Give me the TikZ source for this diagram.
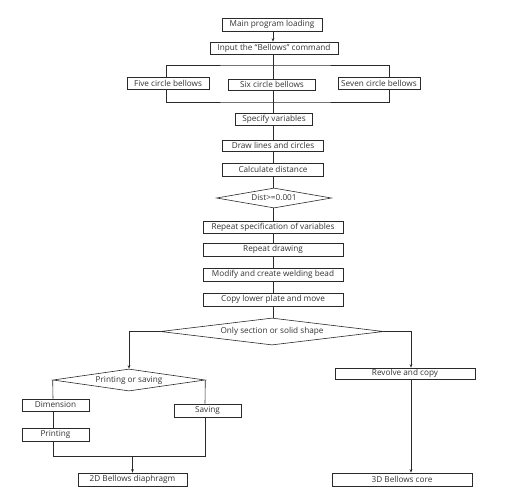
\documentclass[tikz,border=0pt]{standalone}
\usepackage{fontspec}
\setmainfont{Open Sans}
\usetikzlibrary{shapes.geometric,arrows.meta}
\definecolor{ln}{HTML}{2A2A2A}
\definecolor{tx}{HTML}{333333}
\begin{document}
\begin{tikzpicture}[x=1pt,y=-1pt,
  every node/.style={font=\fontsize{8.2}{9}\selectfont, text=tx},
  box/.style={draw=ln, line width=0.6pt, inner sep=0pt, minimum width=#1},
  box/.default=100pt,
  dia/.style={draw=ln, line width=0.6pt, diamond, inner sep=0pt},
  con/.style={draw=ln, line width=0.6pt},
  arr/.style={con, -{Stealth[length=3.5pt,width=2.6pt]}}
]
\useasboundingbox (0,0) rectangle (508,499);
% main column
\node[box=100pt, minimum height=13pt] (main) at (272,24.5) {Main program loading};
\node[box=128pt, minimum height=12pt] (input) at (274,48) {Input the ``Bellows'' command};
\node[box=82pt, minimum height=12pt] (five) at (168,83) {Five circle bellows};
\node[box=87pt, minimum height=11pt] (six) at (272,84.5) {Six circle bellows};
\node[box=82pt, minimum height=12pt] (seven) at (379,83) {Seven circle bellows};
\node[box=77pt, minimum height=12pt] (spec) at (274,119.5) {Specify variables};
\node[box=101pt, minimum height=11pt] (drw) at (273,145.5) {Draw lines and circles};
\node[box=101pt, minimum height=13pt] (calc) at (273,169.5) {Calculate distance};
\node[dia, aspect=5.75, minimum width=115pt, minimum height=20pt] (dist) at (274,198) {Dist>=0.001};
\node[box=140pt, minimum height=12pt] (rep) at (273,227) {Repeat specification of variables};
\node[box=140pt, minimum height=13pt] (repd) at (273,249.5) {Repeat drawing};
\node[box=140pt, minimum height=13pt] (mod) at (273,274.5) {Modify and create welding bead};
\node[box=140pt, minimum height=13pt] (copy) at (273,299.5) {Copy lower plate and move};
\node[dia, aspect=8.26, minimum width=223pt, minimum height=27pt] (only) at (272,331.5) {Only section or solid shape};
% left branch
\node[dia, aspect=6.9, minimum width=152pt, minimum height=22pt] (pos) at (129,380) {Printing or saving};
\node[box=67pt, minimum height=12pt] (dim) at (55.5,405) {Dimension};
\node[box=67pt, minimum height=13pt] (prn) at (55.5,434.5) {Printing};
\node[box=67pt, minimum height=13pt] (sav) at (207.5,410.5) {Saving};
\node[box=109pt, minimum height=13pt] (d2) at (132.5,479.5) {2D Bellows diaphragm};
% right branch
\node[box=140pt, minimum height=11pt] (rev) at (405,373.5) {Revolve and copy};
\node[box=140pt, minimum height=13pt] (d3) at (402,479.5) {3D Bellows core};
% coordinates
\coordinate (bt) at (273,65);
\coordinate (bb) at (273,102);
\coordinate (rc) at (411,331.5);
\coordinate (ml) at (53,456);
\coordinate (mr) at (205,456);
% connectors
\draw[arr] (main.south -| 273,0) -- (input.north -| 273,0);
\draw[con] (input.south -| bt) -- (six.north -| bt);
\draw[con] (five.north -| 166,0) |- (bt) -| (seven.north -| 389,0);
\draw[con] (five.south -| 166,0) |- (bb) -| (seven.south -| 389,0);
\draw[con] (six.south -| bb) -- (spec.north -| bb);
\draw[con] (spec.south -| bb) -- (drw.north -| bb);
\draw[con] (drw.south -| bb) -- (calc.north -| bb);
\draw[con] (calc.south -| bb) -- (dist.north -| bb);
\draw[con] (dist.south -| bb) -- (rep.north -| bb);
\draw[con] (rep.south -| bb) -- (repd.north -| bb);
\draw[con] (repd.south -| bb) -- (mod.north -| bb);
\draw[con] (mod.south -| bb) -- (copy.north -| bb);
\draw[con] (copy.south -| bb) -- (only.north -| bb);
\draw[arr] (only.west) -| (pos.north);
\draw[arr] (only.east) -- (rc) -- (rc |- rev.north);
\draw[arr] (rc |- rev.south) -- (rc |- d3.north);
\draw[con] (pos.west) -- (ml |- dim.north);
\draw[con] (ml |- dim.south) -- (ml |- prn.north);
\draw[con] (ml |- prn.south) -- (ml) -- (mr) -- (mr |- sav.south);
\draw[con] (pos.east) -- (mr |- sav.north);
\draw[arr] (d2.north |- ml) -- (d2.north);
\end{tikzpicture}
\end{document}
